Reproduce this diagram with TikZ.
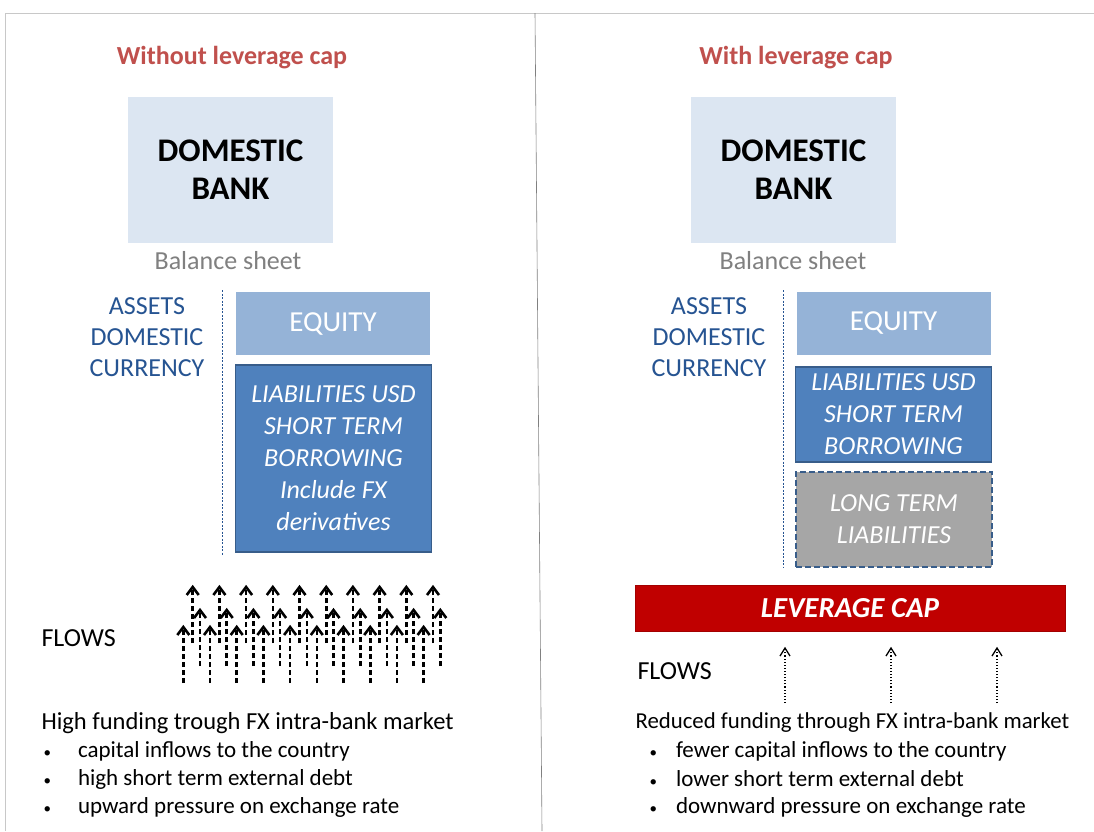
\documentclass[tikz,border=0pt]{standalone}
\usepackage{fontspec}
\setmainfont{Carlito}
\usetikzlibrary{arrows.meta}

\definecolor{titlered}{RGB}{192,80,77}
\definecolor{banklight}{RGB}{220,230,242}
\definecolor{equityblue}{RGB}{149,179,215}
\definecolor{liabblue}{RGB}{79,129,189}
\definecolor{liabborder}{RGB}{56,93,138}
\definecolor{longgray}{RGB}{166,166,166}
\definecolor{assetblue}{RGB}{38,84,146}
\definecolor{capred}{RGB}{192,0,0}
\definecolor{framegray}{RGB}{200,200,200}

\newcommand{\bulletmark}{{\fontsize{15}{18}\selectfont•}}

\tikzset{
  paneltitle/.style={text=titlered, font=\fontsize{26}{30}\selectfont\bfseries},
  bankbox/.style={fill=banklight, minimum width=205pt, minimum height=146pt,
    align=center, font=\fontsize{33}{38}\selectfont\bfseries},
  sheetlabel/.style={text=gray, font=\fontsize{26}{30}\selectfont},
  assetlabel/.style={text=assetblue, align=center, font=\fontsize{26}{31}\selectfont},
  equitybox/.style={fill=equityblue, text=white, minimum width=194pt, minimum height=63pt,
    font=\fontsize{29}{32}\selectfont},
  liabbox/.style={fill=liabblue, draw=liabborder, line width=1.4pt, text=white,
    minimum width=196pt, align=center, font=\fontsize{26}{32}\selectfont\itshape},
  longbox/.style={fill=longgray, draw=liabborder, line width=2pt,
    dash pattern=on 6pt off 3pt, text=white,
    minimum width=196pt, minimum height=95pt, align=center,
    font=\fontsize{26}{32}\selectfont\itshape},
  capbar/.style={fill=capred, draw=capred!85!black, text=white, minimum width=430pt,
    minimum height=46pt, font=\fontsize{29}{32}\selectfont\bfseries\itshape},
  plaintext/.style={anchor=west, font=\fontsize{23}{28}\selectfont},
  sheetline/.style={assetblue, dash pattern=on 2pt off 1.5pt, line width=0.6pt},
  heavyshaft/.style={line width=2.6pt, dash pattern=on 5pt off 3pt},
  heavyhead/.style={line width=2.6pt, line join=miter},
  lightshaft/.style={line width=1.1pt, dotted},
  lighthead/.style={line width=1.3pt, line join=miter},
}

\begin{document}
\begin{tikzpicture}[x=1pt,y=-1pt]
\useasboundingbox[fill=white] (0,0) rectangle (1094,831);

% frame
\draw[framegray, line width=1pt] (5,831) -- (5,13) -- (1094,13);
\draw[gray, line width=0.6pt] (535,13) -- (542,831);

% left panel: without cap
\node[paneltitle] (ltitle) at (232,58) {Without leverage cap};
\node[bankbox] (lbank) at (230.5,170) {DOMESTIC\\BANK};
\node[sheetlabel] (lsheet) at (228,261) {Balance sheet};
\node[assetlabel] (lassets) at (147,337) {ASSETS\\DOMESTIC\\CURRENCY};
\draw[sheetline] (222,290) -- (222,556);
\node[equitybox] (lequity) at (333,323.5) {EQUITY};
\node[liabbox, minimum height=187pt] (lliab) at (333.5,458.5)
  {LIABILITIES USD\\SHORT TERM\\BORROWING\\Include FX\\derivatives};

\node[plaintext, font=\fontsize{26}{30}\selectfont] (lflows) at (38,638) {FLOWS};
% three staggered rows of heavy inflow arrows
\foreach \xa/\ytop in {192.7/587, 200/610, 183.3/627} {
  \foreach \i in {0,...,9} {
    \pgfmathsetmacro{\xx}{\xa+26.7*\i}
    \draw[heavyshaft] (\xx,\ytop+56) -- (\xx,\ytop+2);
    \draw[heavyhead] (\xx-6,\ytop+8) -- (\xx,\ytop) -- (\xx+6,\ytop+8);
  }
}

\node[plaintext, font=\fontsize{24.5}{28}\selectfont] (lsum) at (38,723)
  {High funding trough FX intra-bank market};
\node[plaintext] (lb1) at (40,751) {\bulletmark\hspace{27pt}capital inflows to the country};
\node[plaintext] (lb2) at (40,779) {\bulletmark\hspace{27pt}high short term external debt};
\node[plaintext] (lb3) at (40,807) {\bulletmark\hspace{27pt}upward pressure on exchange rate};

% right panel: with cap
\node[paneltitle] (rtitle) at (796,58) {With leverage cap};
\node[bankbox] (rbank) at (793.5,170) {DOMESTIC\\BANK};
\node[sheetlabel] (rsheet) at (793,261) {Balance sheet};
\node[assetlabel] (rassets) at (709,337) {ASSETS\\DOMESTIC\\CURRENCY};
\draw[sheetline] (783,290) -- (783,568);
\node[equitybox] (requity) at (893.5,323) {EQUITY};
\node[liabbox, minimum height=95pt] (rliab) at (893.5,414.5)
  {LIABILITIES USD\\SHORT TERM\\BORROWING};
\node[longbox] (rlong) at (894,519.5) {LONG TERM\\LIABILITIES};
\node[capbar] (cap) at (850,608) {LEVERAGE CAP};

\node[plaintext, font=\fontsize{26}{30}\selectfont] (rflows) at (634,671) {FLOWS};
\foreach \x in {785,891,997} {
  \draw[lightshaft] (\x,703) -- (\x,649);
  \draw[lighthead] (\x-5,656) -- (\x,648) -- (\x+5,656);
}

\node[plaintext, font=\fontsize{22.8}{28}\selectfont] (rsum) at (632,723)
  {Reduced funding through FX intra-bank market};
\node[plaintext] (rb1) at (646,751) {\bulletmark\hspace{19pt}fewer capital inflows to the country};
\node[plaintext] (rb2) at (646,779) {\bulletmark\hspace{19pt}lower short term external debt};
\node[plaintext] (rb3) at (646,807) {\bulletmark\hspace{19pt}downward pressure on exchange rate};
\end{tikzpicture}
\end{document}
